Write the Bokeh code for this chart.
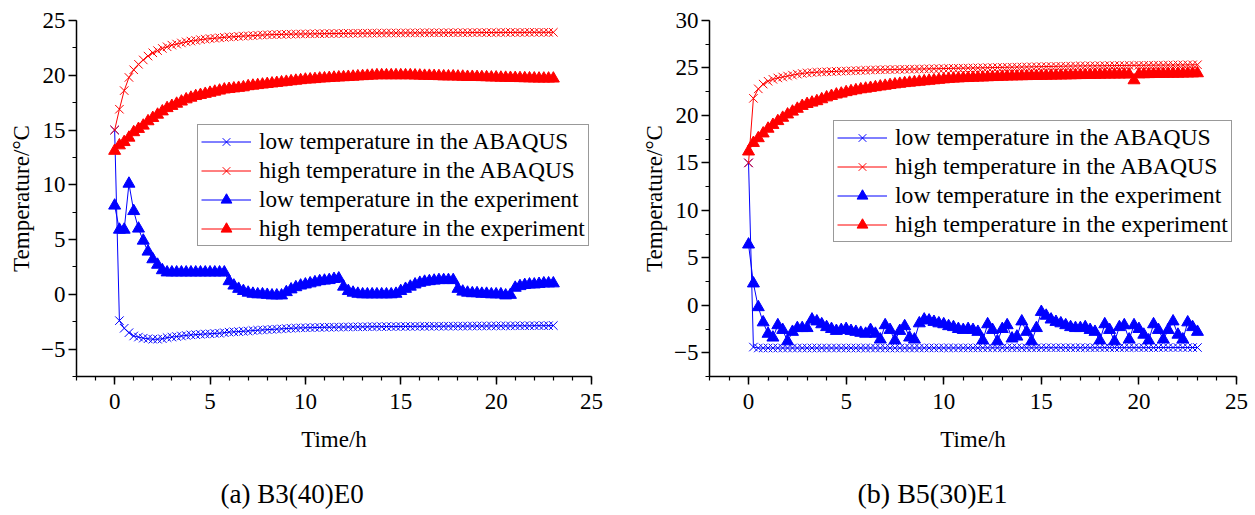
from bokeh.plotting import figure
from bokeh.models import Range1d, SingleIntervalTicker, Legend, LegendItem, Label
from bokeh.layouts import row, column
from bokeh.embed import file_html
from bokeh.resources import INLINE

# ---------------- data ----------------
time_h = [0, 0.25, 0.5, 0.75, 1, 1.25, 1.5, 1.75, 2, 2.25, 2.5, 2.75,
          3, 3.25, 3.5, 3.75, 4, 4.25, 4.5, 4.75, 5, 5.25, 5.5, 5.75,
          6, 6.25, 6.5, 6.75, 7, 7.25, 7.5, 7.75, 8, 8.25, 8.5, 8.75,
          9, 9.25, 9.5, 9.75, 10, 10.25, 10.5, 10.75, 11, 11.25, 11.5, 11.75,
          12, 12.25, 12.5, 12.75, 13, 13.25, 13.5, 13.75, 14, 14.25, 14.5, 14.75,
          15, 15.25, 15.5, 15.75, 16, 16.25, 16.5, 16.75, 17, 17.25, 17.5, 17.75,
          18, 18.25, 18.5, 18.75, 19, 19.25, 19.5, 19.75, 20, 20.25, 20.5, 20.75,
          21, 21.25, 21.5, 21.75, 22, 22.25, 22.5, 22.75, 23]

# (a) B3(40)E0
a_low_abaqus = [15.0, -2.4, -3.1, -3.5, -3.8, -3.9, -4.0, -4.05, -4.1, -4.1, -4.05, -3.95,
                -3.9, -3.85, -3.8, -3.75, -3.7, -3.68, -3.65, -3.62, -3.6, -3.57, -3.55, -3.5,
                -3.45, -3.42, -3.4, -3.37, -3.35, -3.3, -3.28, -3.25, -3.22, -3.2, -3.18, -3.15,
                -3.12, -3.1, -3.08, -3.06, -3.05, -3.04, -3.03, -3.02, -3.01, -3.0, -3.0, -2.99,
                -2.98, -2.98, -2.97, -2.97, -2.96, -2.96, -2.95, -2.95, -2.95, -2.94, -2.94, -2.94,
                -2.93, -2.93, -2.93, -2.92, -2.92, -2.92, -2.91, -2.91, -2.91, -2.91, -2.9, -2.9,
                -2.9, -2.9, -2.9, -2.89, -2.89, -2.89, -2.89, -2.88, -2.88, -2.88, -2.88, -2.88,
                -2.87, -2.87, -2.87, -2.87, -2.86, -2.86, -2.86, -2.86, -2.85]
a_high_abaqus = [15.0, 16.9, 18.6, 19.8, 20.5, 21.0, 21.4, 21.75, 22.05, 22.25, 22.45, 22.6,
                 22.75, 22.85, 22.95, 23.05, 23.12, 23.18, 23.25, 23.3, 23.35, 23.38, 23.42, 23.46,
                 23.5, 23.52, 23.55, 23.58, 23.6, 23.62, 23.65, 23.67, 23.7, 23.71, 23.72, 23.73,
                 23.74, 23.75, 23.76, 23.77, 23.78, 23.78, 23.79, 23.8, 23.8, 23.81, 23.81, 23.82,
                 23.82, 23.83, 23.83, 23.84, 23.84, 23.84, 23.85, 23.85, 23.85, 23.86, 23.86, 23.86,
                 23.86, 23.87, 23.87, 23.87, 23.87, 23.88, 23.88, 23.88, 23.88, 23.88, 23.89, 23.89,
                 23.89, 23.89, 23.89, 23.9, 23.9, 23.9, 23.9, 23.9, 23.9, 23.91, 23.91, 23.91,
                 23.91, 23.91, 23.91, 23.92, 23.92, 23.92, 23.92, 23.92, 23.92]
a_low_exp = [8.1, 5.9, 5.9, 10.1, 7.6, 6.0, 4.9, 3.9, 3.2, 2.7, 2.2, 2.0,
             2.0, 2.0, 2.0, 2.0, 2.0, 2.0, 2.0, 2.0, 2.0, 2.0, 2.0, 2.0,
             1.2, 0.8, 0.5, 0.3, 0.15, 0.05, 0.0, 0.0, -0.05, -0.1, -0.1, -0.1,
             0.2, 0.45, 0.65, 0.8, 0.9, 1.0, 1.1, 1.2, 1.25, 1.3, 1.4, 1.45,
             0.7, 0.3, 0.15, 0.05, 0.0, 0.0, 0.0, 0.0, 0.0, 0.0, 0.0, 0.05,
             0.3, 0.5, 0.7, 0.9, 1.05, 1.15, 1.2, 1.25, 1.3, 1.3, 1.3, 1.3,
             0.5, 0.25, 0.15, 0.1, 0.1, 0.05, 0.05, 0.0, 0.0, 0.0, -0.1, -0.05,
             0.6, 0.75, 0.85, 0.9, 0.9, 0.95, 1.0, 1.0, 1.0]
a_high_exp = [13.1, 13.6, 13.9, 14.3, 14.8, 15.1, 15.4, 15.8, 16.1, 16.4, 16.7, 17.0,
              17.2, 17.4, 17.6, 17.8, 17.95, 18.1, 18.2, 18.3, 18.4, 18.5, 18.6, 18.7,
              18.75, 18.8, 18.85, 18.9, 19.0, 19.05, 19.1, 19.15, 19.2, 19.25, 19.3, 19.35,
              19.4, 19.45, 19.5, 19.55, 19.6, 19.62, 19.65, 19.7, 19.72, 19.75, 19.78, 19.8,
              19.82, 19.85, 19.87, 19.9, 19.92, 19.95, 19.97, 20.0, 20.0, 20.0, 20.0, 20.0,
              20.0, 20.0, 20.0, 19.98, 19.97, 19.95, 19.95, 19.93, 19.92, 19.9, 19.9, 19.9,
              19.88, 19.87, 19.85, 19.85, 19.84, 19.83, 19.82, 19.8, 19.8, 19.78, 19.77, 19.76,
              19.75, 19.74, 19.73, 19.72, 19.71, 19.7, 19.7, 19.7, 19.7]

# (b) B5(30)E1
b_low_abaqus = [15.0, -4.4, -4.5, -4.5, -4.5, -4.5, -4.5, -4.5, -4.5, -4.5, -4.5, -4.5,
                -4.5, -4.5, -4.5, -4.5, -4.5, -4.5, -4.5, -4.5, -4.5, -4.5, -4.5, -4.5,
                -4.5, -4.5, -4.5, -4.5, -4.5, -4.5, -4.5, -4.5, -4.5, -4.5, -4.5, -4.5,
                -4.49, -4.49, -4.49, -4.49, -4.49, -4.49, -4.49, -4.49, -4.49, -4.49, -4.49, -4.49,
                -4.48, -4.48, -4.48, -4.48, -4.48, -4.48, -4.48, -4.48, -4.48, -4.48, -4.48, -4.48,
                -4.47, -4.47, -4.47, -4.47, -4.47, -4.47, -4.47, -4.47, -4.47, -4.47, -4.47, -4.47,
                -4.46, -4.46, -4.46, -4.46, -4.46, -4.46, -4.46, -4.46, -4.46, -4.46, -4.46, -4.46,
                -4.45, -4.45, -4.45, -4.45, -4.45, -4.45, -4.45, -4.45, -4.45]
b_high_abaqus = [15.0, 21.8, 22.8, 23.3, 23.6, 23.8, 23.95, 24.05, 24.15, 24.25, 24.35, 24.42,
                 24.48, 24.52, 24.55, 24.58, 24.6, 24.62, 24.64, 24.66, 24.68, 24.7, 24.72, 24.74,
                 24.76, 24.78, 24.8, 24.81, 24.82, 24.83, 24.84, 24.85, 24.86, 24.87, 24.88, 24.89,
                 24.9, 24.91, 24.92, 24.93, 24.94, 24.95, 24.96, 24.97, 24.98, 24.99, 25.0, 25.01,
                 25.02, 25.03, 25.04, 25.05, 25.06, 25.07, 25.08, 25.09, 25.1, 25.11, 25.12, 25.13,
                 25.14, 25.15, 25.16, 25.17, 25.18, 25.19, 25.2, 25.21, 25.22, 25.22, 25.23, 25.23,
                 25.24, 25.24, 25.25, 25.25, 25.26, 25.26, 25.27, 25.27, 25.28, 25.28, 25.29, 25.29,
                 25.3, 25.3, 25.31, 25.31, 25.32, 25.32, 25.33, 25.33, 25.34]
b_low_exp = [6.4, 2.3, -0.2, -1.8, -3.0, -3.4, -2.1, -2.6, -3.8, -2.8, -2.4, -2.4,
             -2.4, -1.5, -1.7, -2.0, -2.3, -2.5, -2.7, -2.6, -2.5, -2.7, -2.8, -2.9,
             -3.0, -2.6, -3.0, -3.6, -2.1, -2.6, -3.7, -2.7, -2.2, -3.4, -3.6, -1.9,
             -1.5, -1.6, -1.75, -1.9, -2.0, -2.2, -2.3, -2.5, -2.6, -2.5, -2.6, -2.8,
             -3.7, -2.0, -2.6, -3.8, -2.5, -2.1, -3.5, -3.3, -1.7, -2.8, -3.8, -2.4,
             -0.7, -1.1, -1.5, -1.75, -1.9, -2.1, -2.3, -2.4, -2.4, -2.3, -2.6, -2.8,
             -3.7, -2.0, -2.6, -3.8, -2.3, -2.1, -3.6, -2.1, -2.5, -3.1, -3.7, -2.0,
             -2.6, -3.6, -2.6, -1.7, -3.1, -3.6, -1.8, -2.3, -2.8]
b_high_exp = [16.2, 17.1, 17.6, 18.1, 18.6, 19.0, 19.4, 19.75, 20.1, 20.4, 20.7, 21.0,
              21.2, 21.35, 21.5, 21.7, 21.9, 22.05, 22.2, 22.3, 22.45, 22.55, 22.65, 22.75,
              22.82, 22.9, 22.97, 23.05, 23.12, 23.2, 23.27, 23.33, 23.4, 23.45, 23.5, 23.55,
              23.6, 23.65, 23.7, 23.75, 23.8, 23.85, 23.88, 23.9, 23.93, 23.95, 23.97, 23.99,
              24.0, 24.02, 24.04, 24.06, 24.08, 24.1, 24.11, 24.12, 24.13, 24.14, 24.15, 24.16,
              24.17, 24.18, 24.19, 24.2, 24.21, 24.22, 24.23, 24.24, 24.25, 24.26, 24.27, 24.28,
              24.29, 24.3, 24.3, 24.31, 24.31, 24.32, 24.32, 23.7, 24.33, 24.34, 24.35, 24.36,
              24.37, 24.38, 24.39, 24.4, 24.4, 24.41, 24.42, 24.43, 24.44]

series_labels = ["low temperature in the ABAQUS", "high temperature in the ABAQUS",
                 "low temperature in the experiment", "high temperature in the experiment"]
x_label = "Time/h"
y_label = "Temperature/\u00b0C"
captions = ["(a) B3(40)E0", "(b) B5(30)E1"]

FONT = "Liberation Serif"
BLUE = "#0000ff"
RED = "#ff0000"
MAIN_H = 460
CAP_H = 55


def make_panel(series, ymax, width, borders, legend_loc, legend_font):
    bl, br, bt, bb = borders
    p = figure(width=width, height=MAIN_H, x_range=Range1d(-2, 25), y_range=Range1d(-7.5, ymax),
               output_backend="svg", toolbar_location=None,
               min_border_left=bl, min_border_right=br, min_border_top=bt, min_border_bottom=bb)
    p.outline_line_color = None
    p.grid.visible = False
    p.background_fill_color = "white"
    p.border_fill_color = "white"

    p.xaxis.ticker = SingleIntervalTicker(interval=5, num_minor_ticks=5)
    p.yaxis.ticker = SingleIntervalTicker(interval=5, num_minor_ticks=2)
    for ax in (p.xaxis, p.yaxis):
        ax.axis_line_width = 1.5
        ax.axis_line_color = "black"
        ax.major_tick_out = 8
        ax.major_tick_in = 0
        ax.minor_tick_out = 4
        ax.minor_tick_in = 0
        ax.major_tick_line_width = 1.5
        ax.minor_tick_line_width = 1.2
        ax.major_tick_line_color = "black"
        ax.minor_tick_line_color = "black"
        ax.major_label_text_font = FONT
        ax.major_label_text_font_size = "23px"
        ax.major_label_text_color = "black"
        ax.axis_label_text_font = FONT
        ax.axis_label_text_font_size = "23px"
        ax.axis_label_text_font_style = "normal"
        ax.axis_label_text_color = "black"
    p.xaxis.axis_label = x_label
    p.yaxis.axis_label = y_label
    p.xaxis.major_label_standoff = 9
    p.yaxis.major_label_standoff = 3
    p.xaxis.axis_label_standoff = 15
    p.yaxis.axis_label_standoff = 4

    colors = [BLUE, RED, BLUE, RED]
    markers = ["x", "x", "triangle", "triangle"]
    items = []
    for vals, col, mk, lab in zip(series, colors, markers, series_labels):
        ln = p.line(time_h, vals, line_color=col, line_width=1)
        if mk == "x":
            sc = p.scatter(time_h, vals, marker="x", size=12, line_color=col, line_width=1)
        else:
            sc = p.scatter(time_h, vals, marker="triangle", size=12, line_color=col,
                           fill_color=col, line_width=1)
        items.append(LegendItem(label=lab, renderers=[ln, sc]))

    legend = Legend(items=items, location=legend_loc,
                    label_text_font=FONT, label_text_font_size=legend_font,
                    label_text_color="black",
                    glyph_width=50, glyph_height=27, label_height=27, spacing=2, padding=3,
                    margin=0, label_standoff=8,
                    border_line_color="#333333", border_line_width=1.5,
                    background_fill_color="white", background_fill_alpha=1)
    p.add_layout(legend, "center")
    return p


def make_caption(width, text, x_px, y_px, font_size):
    c = figure(width=width, height=CAP_H, x_range=Range1d(0, 1), y_range=Range1d(0, 1),
               x_axis_type=None, y_axis_type=None, output_backend="svg", toolbar_location=None,
               min_border=0, min_border_left=0, min_border_right=0,
               min_border_top=0, min_border_bottom=0)
    c.outline_line_color = None
    c.grid.visible = False
    c.background_fill_color = "white"
    c.border_fill_color = "white"
    c.add_layout(Label(x=x_px, y=y_px, x_units="screen", y_units="screen",
                       text=text, text_font=FONT, text_font_size=font_size,
                       text_font_style="normal", text_color="black",
                       text_align="left", text_baseline="alphabetic"))
    return c


p1 = make_panel([a_low_abaqus, a_high_abaqus, a_low_exp, a_high_exp], 25, 630,
                (76, 39, 20, MAIN_H - 376), (121, 130), "23.2px")
p2 = make_panel([b_low_abaqus, b_high_abaqus, b_low_exp, b_high_exp], 30, 625,
                (79, 19, 16, MAIN_H - 380), (124, 134), "23.7px")

c1 = make_caption(630, captions[0], 220, 22, "27px")
c2 = make_caption(625, captions[1], 857 - 630, 22, "28px")

layout = column(row(p1, p2), row(c1, c2))
open("out.html", "w").write(file_html(layout, INLINE))
